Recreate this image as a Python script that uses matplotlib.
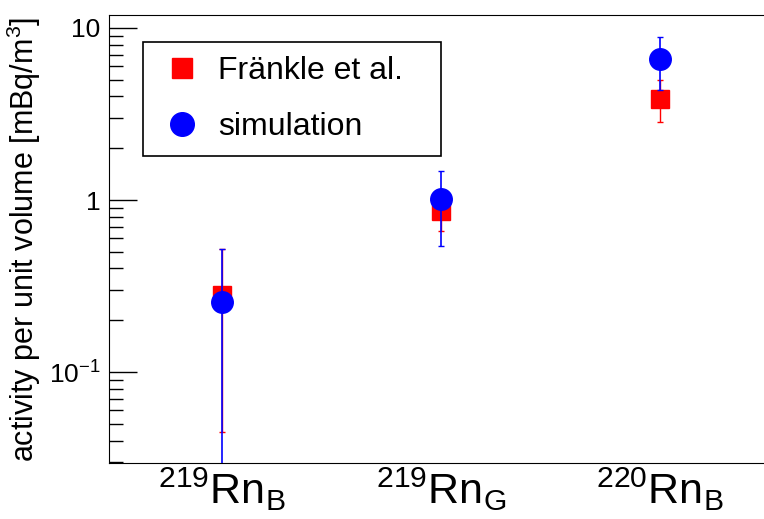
import matplotlib.pyplot as plt
from matplotlib.lines import Line2D
import numpy as np

plt.rcParams['font.family'] = ['Liberation Sans', 'DejaVu Sans']
plt.rcParams['mathtext.fontset'] = 'custom'
plt.rcParams['mathtext.rm'] = 'Liberation Sans'
plt.rcParams['mathtext.it'] = 'Liberation Sans'

labels = [r'$^{219}\mathregular{Rn}_{\mathregular{B}}$',
          r'$^{219}\mathregular{Rn}_{\mathregular{G}}$',
          r'$^{220}\mathregular{Rn}_{\mathregular{B}}$']

# Fraenkle et al. measurements
meas = [0.28, 0.86, 3.87]
meas_lo = [0.045, 0.66, 2.83]
meas_hi = [0.52, 1.12, 4.99]

# simulation
sim = [0.255, 1.01, 6.6]
sim_lo = [0.02, 0.54, 4.36]
sim_hi = [0.52, 1.48, 8.9]

x = np.arange(len(labels)) + 0.5

fig = plt.figure(figsize=(7.64, 5.19), dpi=100)
ax = fig.add_axes([109 / 764, 56 / 519, 655 / 764, 448 / 519])

m = np.array(meas)
ax.errorbar(x, m, yerr=[m - np.array(meas_lo), np.array(meas_hi) - m],
            fmt='s', color='red', ms=13.5, elinewidth=1, capsize=2.2,
            zorder=3)
s = np.array(sim)
ax.errorbar(x, s, yerr=[s - np.array(sim_lo), np.array(sim_hi) - s],
            fmt='o', color='blue', ms=15.5, elinewidth=1.2, capsize=2.2,
            zorder=4)

ax.set_yscale('log')
ax.set_ylim(0.0296, 11.9)
ax.set_xlim(-0.016, 2.975)
ax.spines['right'].set_visible(False)
ax.set_xticks(x)
ax.set_xticklabels(labels, fontsize=31)
ax.tick_params(axis='x', length=0, pad=2)
ax.set_yticks([0.1, 1, 10])
ax.set_yticklabels([r'10$^{\mathregular{-1}}$', '1', '10'], fontsize=19)
ax.tick_params(axis='y', which='major', direction='in', length=20, width=1, pad=6)
ax.tick_params(axis='y', which='minor', direction='in', length=10, width=1)
ax.yaxis.set_minor_formatter(plt.NullFormatter())
ax.set_ylabel(r'activity per unit volume [mBq/m$^{\mathregular{3}}$]', fontsize=22, labelpad=4)

handles = [Line2D([], [], ls='none', marker='s', color='red', ms=14.5),
           Line2D([], [], ls='none', marker='o', color='blue', ms=17)]
leg = ax.legend(handles, ['Fränkle et al.', 'simulation'],
                loc='upper left', bbox_to_anchor=(0.052, 0.0, 298 / 655, 0.94),
                mode='expand', fontsize=23, frameon=True, fancybox=False,
                edgecolor='black', framealpha=1, borderpad=0.45, labelspacing=0.8,
                handletextpad=0.35, borderaxespad=0, handlelength=1.55)
leg.get_frame().set_linewidth(1.2)

fig.savefig('out.png', dpi=100)
